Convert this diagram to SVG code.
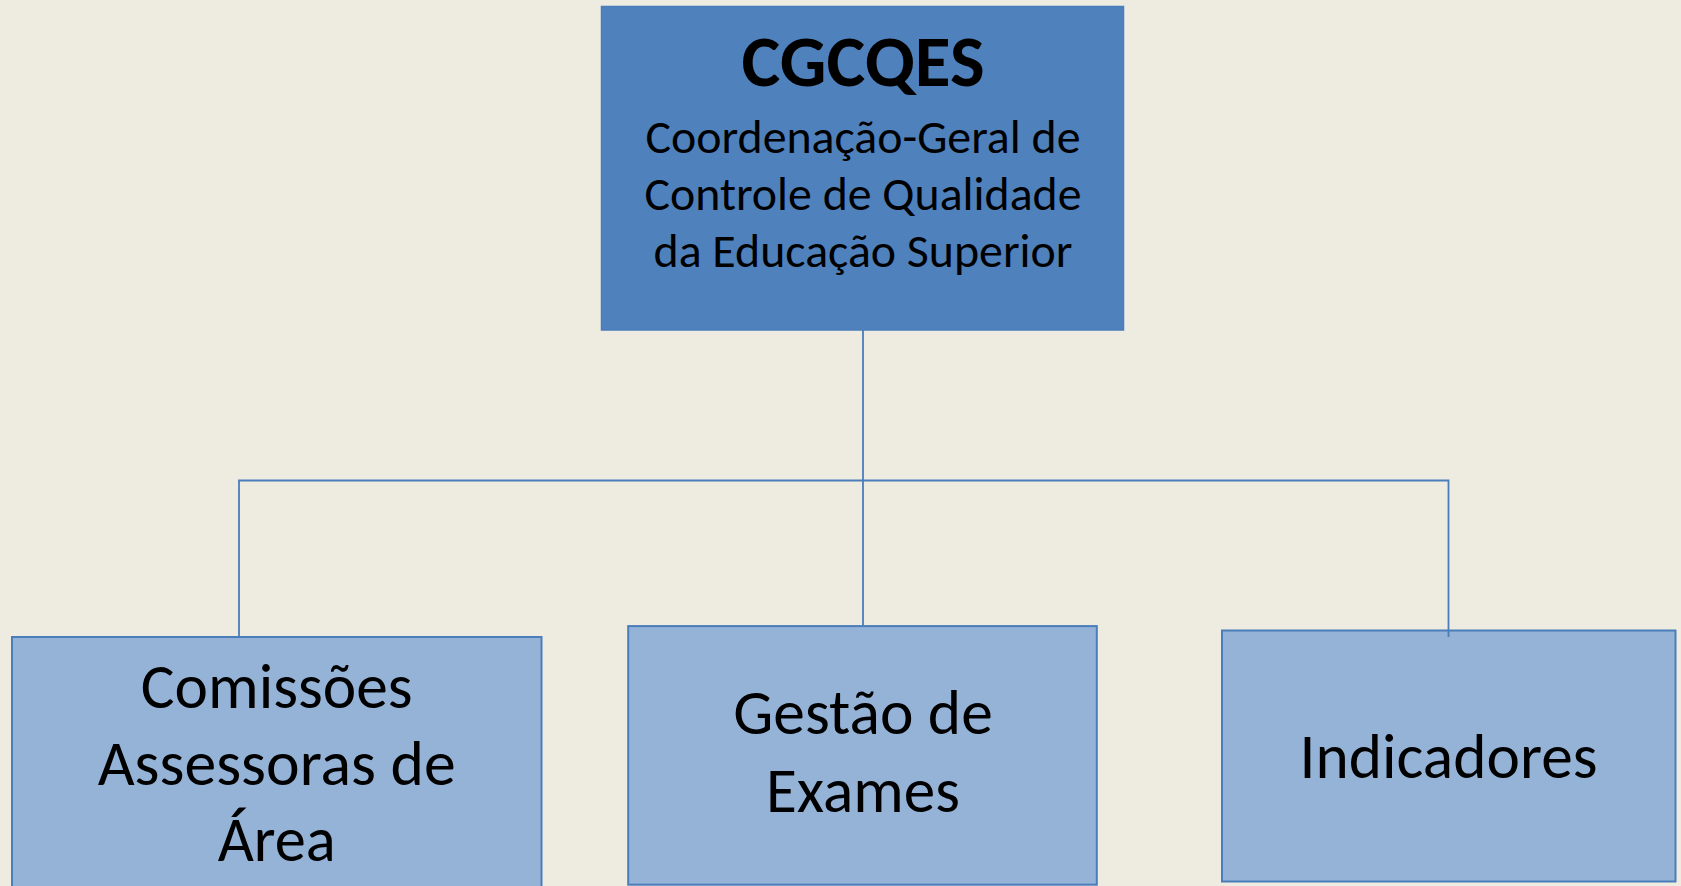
<svg xmlns="http://www.w3.org/2000/svg" width="1681" height="886" viewBox="0 0 1681 886">
<style>
.bg{fill:#EEEBE0}
.top{fill:#4F81BD;stroke:#4A7EBB;stroke-width:1.5}
.child{fill:#95B3D7;stroke:#4A7EBB;stroke-width:2}
.conn{fill:none;stroke:#4A7EBB;stroke-width:1.8}
text{font-family:Carlito,Calibri,Lato,"Open Sans",sans-serif;fill:#000;text-anchor:middle}
.t1{font-size:72px;font-weight:bold}
.t2{font-size:48px}
.t3{font-size:64px}
</style>
<rect class="bg" x="0" y="0" width="1681" height="886"/>
<g id="node-cgcqes">
<rect class="top" x="601.5" y="6.5" width="522" height="323.5"/>
<text class="t1" x="863" y="86" textLength="243" lengthAdjust="spacingAndGlyphs">CGCQES</text>
<text class="t2" x="863" y="153" textLength="435" lengthAdjust="spacingAndGlyphs">Coordenação-Geral de</text>
<text class="t2" x="863" y="210" textLength="437" lengthAdjust="spacingAndGlyphs">Controle de Qualidade</text>
<text class="t2" x="863" y="267" textLength="419" lengthAdjust="spacingAndGlyphs">da Educação Superior</text>
</g>
<g id="node-comissoes">
<rect class="child" x="12" y="637" width="529.5" height="260"/>
<text class="t3" x="276.7" y="707.6" textLength="272" lengthAdjust="spacingAndGlyphs">Comissões</text>
<text class="t3" x="276.7" y="784.8" textLength="358" lengthAdjust="spacingAndGlyphs">Assessoras de</text>
<text class="t3" x="276.7" y="861" textLength="118" lengthAdjust="spacingAndGlyphs">Área</text>
</g>
<g id="node-gestao">
<rect class="child" x="628.2" y="626.1" width="468.6" height="258.6"/>
<text class="t3" x="863" y="734" textLength="259.5" lengthAdjust="spacingAndGlyphs">Gestão de</text>
<text class="t3" x="863" y="811.6" textLength="194" lengthAdjust="spacingAndGlyphs">Exames</text>
</g>
<g id="node-indicadores">
<rect class="child" x="1222" y="630.5" width="453.5" height="251"/>
<text class="t3" x="1448.5" y="778" textLength="298" lengthAdjust="spacingAndGlyphs">Indicadores</text>
</g>
<g id="connectors">
<path class="conn" d="M863 330 V626"/>
<path class="conn" d="M239 637 V480.5 H1448.5 V637"/>
</g>
</svg>
